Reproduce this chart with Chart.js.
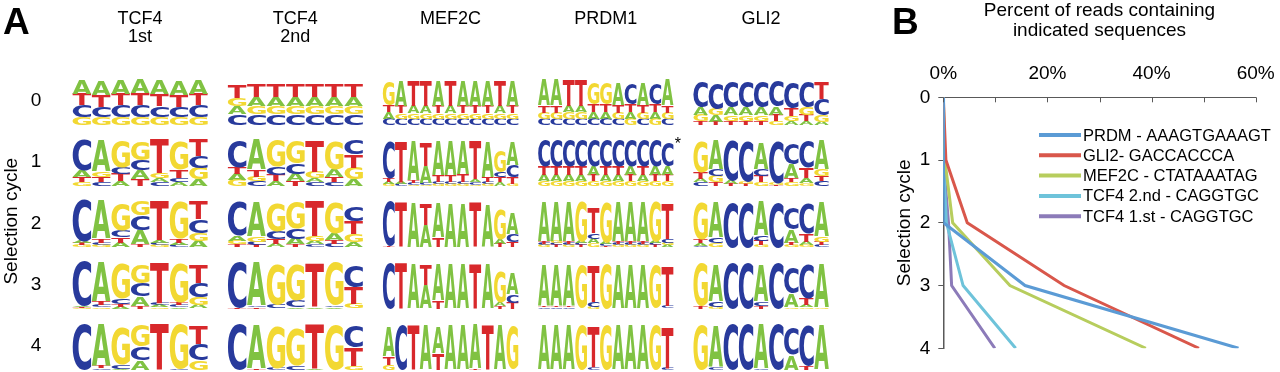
<!DOCTYPE html>
<html>
<head>
<meta charset="utf-8">
<script src="https://cdn.jsdelivr.net/npm/chart.js@4.4.1/dist/chart.umd.min.js"></script>
<style>
  html, body { margin: 0; padding: 0; background: #fff; }
  #wrapA { position: absolute; left: 0; top: 0; width: 880px; height: 372px; }
  #wrapB { position: absolute; left: 880px; top: 0; width: 400px; height: 372px; }
</style>
</head>
<body>
<div id="wrapA"><canvas id="chartA"></canvas></div>
<div id="wrapB"><canvas id="chartB"></canvas></div>
<script>
// ---- panel A: sequence logos (letter + height in tenths of a cell, top to bottom) ----
var motifNames = [['TCF4', '1st'], ['TCF4', '2nd'], ['MEF2C', ''], ['PRDM1', ''], ['GLI2', '']];
var cycles = [0, 1, 2, 3, 4];

var tcf4FirstLogos = [
  'A3.1T2.4C2.4G1.7 A3.1T2.4C2.1G1.7 A3.1T2.4C2.4G1.7 A3.1T2.4C2.6G1.6 A3.1T2.4C2.3G1.7 A3.1T2.4C2.1G1.7 A3.1T2.4C2.5G1.6',
  'C6.6A1.3T1G0.9 A6.5G1.2T1C0.8 G5.5C1.4T1.6A1 G3.8C2.1A2T1.4 T7G1A0.9C0.8 G6T1.7C0.9A0.8 T3.5C2.4G2.4A1.4',
  'C8.6A0.6T0.4G0.4 A8T0.9C0.5G0.4 G5.5C1.4T1.1A1 G3.2C3A3T0.6 T8.3A0.6C0.5G0.4 G7.8T0.8A0.6C0.4 T3.8C2.8G1.7A1.3',
  'C9.2A0.3T0.2G0.2 A8.2T0.7C0.4G0.3 G7.4C1T0.6A0.4 G3.8C2.8A2T0.5 T8.4C0.4A0.4G0.3 G8.2T0.6C0.4A0.3 T3.8C3G1.7A0.7',
  'C9.6 A8.8T0.4C0.3 G8C0.8A0.2 G4.5C2.8A2 T9.6 G9.2C0.3 T3.8C3.4G2'
];
var tcf4SecondLogos = [
  'T2.8G1.8A1.6C2.3 T2.8A1.9G1.6C2.3 T2.8A1.9G1.6C2.3 T2.8A1.9G1.6C2.3 T2.8A1.9G1.6C2.3 T2.8A1.9G1.6C2.3 T2.8A1.9G1.6C2.3',
  'C5.5T1.4A1.3G1.3 A6.2T1.4G1C1 G5.5C1.7T1.4A1 G4.8C2.1A1.6T1 T6.6G1.3A0.9C0.8 G5.9A1.7T1.1C0.8 C3.1T2.8G2.4A1.4',
  'C7A1G0.8T0.6 A7.2G1C0.7T0.5 G5.9C1.7T1A0.7 G5.5C2.1A1.2T0.6 T7.3G1A0.8C0.6 G6.6A1.4T0.9C0.7 C3.1T2.8G1.7A1',
  'C9.6T0.2 A9C0.3T0.3 G8.3C0.8 G7.6C1.4A0.3 T9.1A0.3 G9C0.3A0.3 C4.4T3.5G1',
  'C9.6 A9T0.3 G8.7C0.5 G8C0.9 T9.2A0.2 G9.2 C4.5T3.8G0.8'
];
var mef2cLogos = [
  'G5T1.4A1.4C1.3 A5.3T1.5G1.1C1.3 T5.3A1.5G1.1C1.3 T5.3A1.5G1.1C1.3 A5.3T1.5G1.1C1.3 T5.3A1.5G1.1C1.3 A5.3T1.5G1.1C1.3 A5.3T1.5G1.1C1.3 A5.3T1.5G1.1C1.3 T5.3A1.5G1.1C1.3 A5.3T1.5G1.1C1.3',
  'C7.8T0.7A0.5G0.4 T8.6A0.5C0.4 A8.2T0.4C0.4G0.3 T4.8A3.5C0.4G0.3 A7T1.4C0.5G0.4 A7T1.4C0.5G0.4 A6.8T1.6C0.5G0.4 T8A0.6C0.5G0.3 A7.3T1C0.5G0.4 G4.6C1T1A0.8 A4.9C2.5T1.3G0.5',
  'C9.2T0.3 T9.4 A9.2 T4.5A4.6 A7.2T2 A9 A9 T9.2 A8.8 G6.2A1T0.7 A4.3C1.7T1',
  'C9.5 T9.5 A9.3 T4.2A5 A7.6T1.7 A9.4 A9.4 T9.4 A9.2 G6.6A0.8T0.5 A4.5C1.7T1.2',
  'A6T1.7G1 C9.2 T9.4 A9.2 A5.5T3.4 A9.3 A9.3 A9.2T0.2 T9.3 A9.2 G9'
];
var prdm1Logos = [
  'A5.5T1.4G1.3C1.3 A5.5T1.4G1.3C1.3 T5.5A1.4G1.3C1.3 T5.5A1.4G1.3C1.3 G4.4T1.6A1.4C1.3 G4.4T1.6A1.4C1.3 A4.6T1.6G1.3C1.3 C4.2T1.6A1.4G1.3 A4.6T1.6G1.3C1.3 C4.2T1.6A1.4G1.3 A5.5T1.4G1.3C1.3',
  'C5.5T1.8A1.4G1 C5.5T1.8A1.4G1 C5.5T1.8A1.4G1 C5.5T1.8A1.4G1 C5.5A1.8T1.4G1 C5.5T1.8A1.4G1 C5.5T1.8A1.4G1 C5.5A1.8T1.4G1 C5.5T1.8A1.4G1 C5.5A1.8T1.4G1 C5A1.8T1.4G1',
  'A8.3T0.5C0.4G0.4 A8.3G0.5C0.4T0.4 A8.3T0.5C0.4G0.4 G8.3A0.5C0.4T0.4 T5.2C1.2A1G0.8 G8.4A0.4C0.4T0.3 A8.3T0.5C0.4G0.4 A8.3T0.5C0.4G0.4 A8.3T0.5C0.4G0.4 G8.3A0.4C0.4T0.4 T7.3C0.8G0.5A0.4',
  'A8.5T0.3C0.3 A8.5T0.3C0.3 A8.5T0.3C0.3 G9 T7.6C1G0.4 G9.2 A9 A9 A9 G9 T8.3C0.6',
  'A9.4 A9.4 A9.4 G9.4 T8.4C0.5 G9.4 A9.4 A9.4 A9.4 G9.2 T8.6C0.4'
];
var gli2Logos = [
  'C5.2A1.6G1.3T0.8 C5.4G1.3A1.3T0.7 C5.4A1.7G1.2T0.8 C5.4A1.6G1.2T0.8 C5.4A1.6G1.2T0.8 C5.2A1.7T1.3G0.8 C5.4T1.6G1A0.8 C5.2G1.6T1.2A0.8 T3.6C3.5G1.3A0.7',
  'G6.5T1.4A0.7C0.8 A5.9C1.4G1.3T0.8 C8.5A0.8T0.4 C8.5G0.6T0.4 A5.5C1.4T1.4G0.8 C8.8G0.4T0.3 C4.2A3T0.8G0.8 C5.5T2.3A1G0.6 A5.9G1.4T1C1',
  'G8T0.7A0.6C0.3 A7.3C1.1G0.9 C9.3 C9.3 A7C1T1G0.4 C9.3 C4.5A2.8T0.5G0.4 C6.2T1.7A0.8G0.4 A7.2G1T0.7C0.5',
  'G9T0.4 A7.8C1G0.4 C9.6 C9.6 A7.8C0.9T0.5 C9.6 C5.2A2.8G0.3 C7T1.3A0.5G0.3 A9G0.3',
  'G9.3 A8.6C0.6 C9.6 C9.6 A9.3C0.3 C9.6 C5.5A3.1 C8.3T0.8 A9.4'
];
var asteriskCells = [{ motif: 3, cycle: 1 }];

// ---- panel B: percent of reads ----
var cycleValues = [0, 1, 2, 3, 4];
var seriesLabels = ['PRDM - AAAGTGAAAGT', 'GLI2- GACCACCCA', 'MEF2C - CTATAAATAG', 'TCF4 2.nd - CAGGTGC', 'TCF4 1.st - CAGGTGC'];
var prdmPercent = [0, 0, 0.1, 15.7, 56.7];
var gli2Percent = [0, 0.5, 4.6, 23.2, 49.1];
var mef2cPercent = [0, 0.3, 1.8, 12.8, 38.9];
var tcf4SecondPercent = [0, 0, 0.6, 3.8, 13.9];
var tcf4FirstPercent = [0, 0, 1.0, 1.6, 9.9];
var seriesColors = ['#5b9bd5', '#d9574b', '#b7cd5d', '#6ec3da', '#8c7bb9'];

Chart.defaults.font.family = '"Liberation Sans", Arial, sans-serif';
Chart.defaults.color = '#000';

var letterColors = { A: '#80c242', C: '#283a9c', G: '#f2d832', T: '#d8282b' };
var logos = [tcf4FirstLogos, tcf4SecondLogos, mef2cLogos, prdm1Logos, gli2Logos];

function parseLogo(str) {
  return str.trim().split(/\s+/).map(function (pos) {
    var out = [];
    pos.replace(/([ACGT])([\d.]+)/g, function (m, l, h) { out.push([l, parseFloat(h)]); return m; });
    return out;
  });
}

function drawLetter(ctx, ch, x, y, w, h, color) {
  if (h < 0.4 || w < 0.4) return;
  ctx.save();
  ctx.font = 'bold 100px "DejaVu Sans", "Liberation Sans", sans-serif';
  ctx.textAlign = 'left';
  ctx.textBaseline = 'alphabetic';
  var m = ctx.measureText(ch);
  var iw = m.actualBoundingBoxLeft + m.actualBoundingBoxRight;
  var ih = m.actualBoundingBoxAscent + m.actualBoundingBoxDescent;
  ctx.translate(x, y);
  ctx.scale(w / iw, h / ih);
  ctx.fillStyle = color;
  ctx.fillText(ch, m.actualBoundingBoxLeft, m.actualBoundingBoxAscent);
  ctx.restore();
}

// scales keep their edge-label padding out of the layout
function noEdgePadding(s) {
  s.paddingLeft = 0; s.paddingRight = 0; s.paddingTop = 0; s.paddingBottom = 0;
}

var logoPlugin = {
  id: 'logoPlugin',
  afterDatasetsDraw: function (chart) {
    var ctx = chart.ctx;
    var xs = chart.scales.x, ys = chart.scales.y;
    var unitX = Math.abs(xs.getPixelForValue(1) - xs.getPixelForValue(0));
    var unitY = Math.abs(ys.getPixelForValue(1) - ys.getPixelForValue(0));
    var cellW = unitX * 0.876, cellH = unitY * 0.785;
    logos.forEach(function (rows, mi) {
      rows.forEach(function (row, ci) {
        var cx = xs.getPixelForValue(mi), cy = ys.getPixelForValue(cycles[ci]);
        var left = cx - cellW / 2, bottom = cy + cellH / 2;
        var positions = parseLogo(row);
        var posW = cellW / positions.length;
        positions.forEach(function (stack, pi) {
          var y = bottom;
          for (var k = stack.length - 1; k >= 0; k--) {
            var h = stack[k][1] / 10 * cellH;
            drawLetter(ctx, stack[k][0], left + pi * posW + posW * 0.02, y - h, posW * 0.96, h, letterColors[stack[k][0]]);
            y -= h;
          }
        });
      });
    });
    asteriskCells.forEach(function (a) {
      var cx = xs.getPixelForValue(a.motif), cy = ys.getPixelForValue(a.cycle);
      ctx.save();
      ctx.font = '16px "Liberation Sans", Arial, sans-serif';
      ctx.fillStyle = '#000';
      ctx.textBaseline = 'top';
      ctx.fillText('*', cx + cellW / 2 + 1, cy - cellH / 2 - 2);
      ctx.restore();
    });
    ctx.save();
    ctx.font = 'bold 37px "Liberation Sans", Arial, sans-serif';
    ctx.fillStyle = '#000';
    ctx.textBaseline = 'alphabetic';
    ctx.fillText('A', 3, 34);
    ctx.restore();
  }
};

var cellPoints = [];
logos.forEach(function (rows, mi) { cycles.forEach(function (c) { cellPoints.push({ x: mi, y: c }); }); });

var chartA = new Chart(document.getElementById('chartA'), {
  type: 'scatter',
  data: { datasets: [{ data: cellPoints, pointRadius: 0, pointHoverRadius: 0 }] },
  options: {
    animation: false,
    responsive: true,
    maintainAspectRatio: false,
    layout: { padding: { left: 0, right: 41.4, top: 0, bottom: 0 } },
    plugins: { legend: { display: false }, tooltip: { enabled: false } },
    scales: {
      x: {
        type: 'linear', position: 'top', min: -0.5, max: 4.5,
        grid: { display: false, drawTicks: false }, border: { display: false },
        afterBuildTicks: function (s) { s.ticks = motifNames.map(function (_, i) { return { value: i }; }); },
        afterFit: function (s) { s.height = 70.4; noEdgePadding(s); },
        ticks: {
          autoSkip: false, maxRotation: 0, padding: 25,
          font: { size: 18, lineHeight: 0.98 },
          callback: function (v) { return motifNames[v]; }
        }
      },
      y: {
        type: 'linear', reverse: true, min: -0.5, max: 4.43,
        grid: { display: false, drawTicks: false }, border: { display: false },
        afterBuildTicks: function (s) { s.ticks = cycles.map(function (c) { return { value: c }; }); },
        afterFit: function (s) { s.width = 62.4; noEdgePadding(s); },
        ticks: { padding: 21, font: { size: 19 }, callback: function (v) { return String(v); } },
        title: { display: true, text: 'Selection cycle', font: { size: 19 }, padding: 0 }
      }
    }
  },
  plugins: [logoPlugin]
});

// ---- panel B chart ----
var seriesValues = [prdmPercent, gli2Percent, mef2cPercent, tcf4SecondPercent, tcf4FirstPercent];
var datasetsB = seriesLabels.map(function (label, i) {
  return {
    label: label,
    data: seriesValues[i].map(function (v, k) { return { x: v, y: cycleValues[k] }; }),
    showLine: true, borderColor: seriesColors[i], backgroundColor: seriesColors[i],
    borderWidth: 3, pointRadius: 0, tension: 0, fill: false
  };
});

var axisColor = '#595959';
var panelBPlugin = {
  id: 'panelBPlugin',
  afterDraw: function (chart) {
    var ctx = chart.ctx;
    var xs = chart.scales.x;
    ctx.save();
    ctx.strokeStyle = axisColor;
    ctx.lineWidth = 1;
    xs.ticks.forEach(function (t) {
      var px = Math.round(xs.getPixelForValue(t.value)) + 0.5;
      ctx.beginPath();
      ctx.moveTo(px, xs.bottom);
      ctx.lineTo(px, xs.bottom + 5);
      ctx.stroke();
    });
    // legend inside plot
    ctx.font = '16.5px "Liberation Sans", Arial, sans-serif';
    ctx.textBaseline = 'middle';
    ctx.fillStyle = '#000';
    chart.data.datasets.forEach(function (ds, i) {
      var y = 135 + i * 20.3;
      ctx.strokeStyle = ds.borderColor;
      ctx.lineWidth = 4;
      ctx.beginPath();
      ctx.moveTo(159, y);
      ctx.lineTo(201, y);
      ctx.stroke();
      ctx.fillText(ds.label, 203, y + 1);
    });
    ctx.font = 'bold 37px "Liberation Sans", Arial, sans-serif';
    ctx.textBaseline = 'alphabetic';
    ctx.fillText('B', 12, 34);
    ctx.restore();
  }
};

var chartB = new Chart(document.getElementById('chartB'), {
  type: 'scatter',
  data: { datasets: datasetsB },
  options: {
    animation: false,
    responsive: true,
    maintainAspectRatio: false,
    layout: { padding: { left: 13.6, right: 24.3, top: 0, bottom: 23.7 } },
    plugins: { legend: { display: false }, tooltip: { enabled: false } },
    scales: {
      x: {
        type: 'linear', position: 'top', min: 0, max: 60,
        grid: { display: true, drawOnChartArea: false, drawTicks: false },
        border: { display: true, color: axisColor, width: 1 },
        afterFit: function (s) { s.height = 97.3; noEdgePadding(s); },
        ticks: {
          stepSize: 10, padding: 12, font: { size: 19 },
          callback: function (v) { return v % 20 === 0 ? v + '%' : ''; }
        },
        title: {
          display: true, text: ['Percent of reads containing', 'indicated sequences'],
          font: { size: 19, lineHeight: 1.05 }, padding: { top: 1, bottom: 0 }
        }
      },
      y: {
        type: 'linear', reverse: true, min: 0, max: 4,
        grid: { display: true, drawOnChartArea: false, drawTicks: true, tickLength: 5, color: axisColor },
        border: { display: true, color: axisColor, width: 1.5 },
        afterFit: function (s) { s.width = 49.7; noEdgePadding(s); },
        ticks: { stepSize: 1, padding: 8, font: { size: 19 } },
        title: { display: true, text: 'Selection cycle', font: { size: 19 }, padding: 0 }
      }
    }
  },
  plugins: [panelBPlugin]
});
</script>
</body>
</html>
